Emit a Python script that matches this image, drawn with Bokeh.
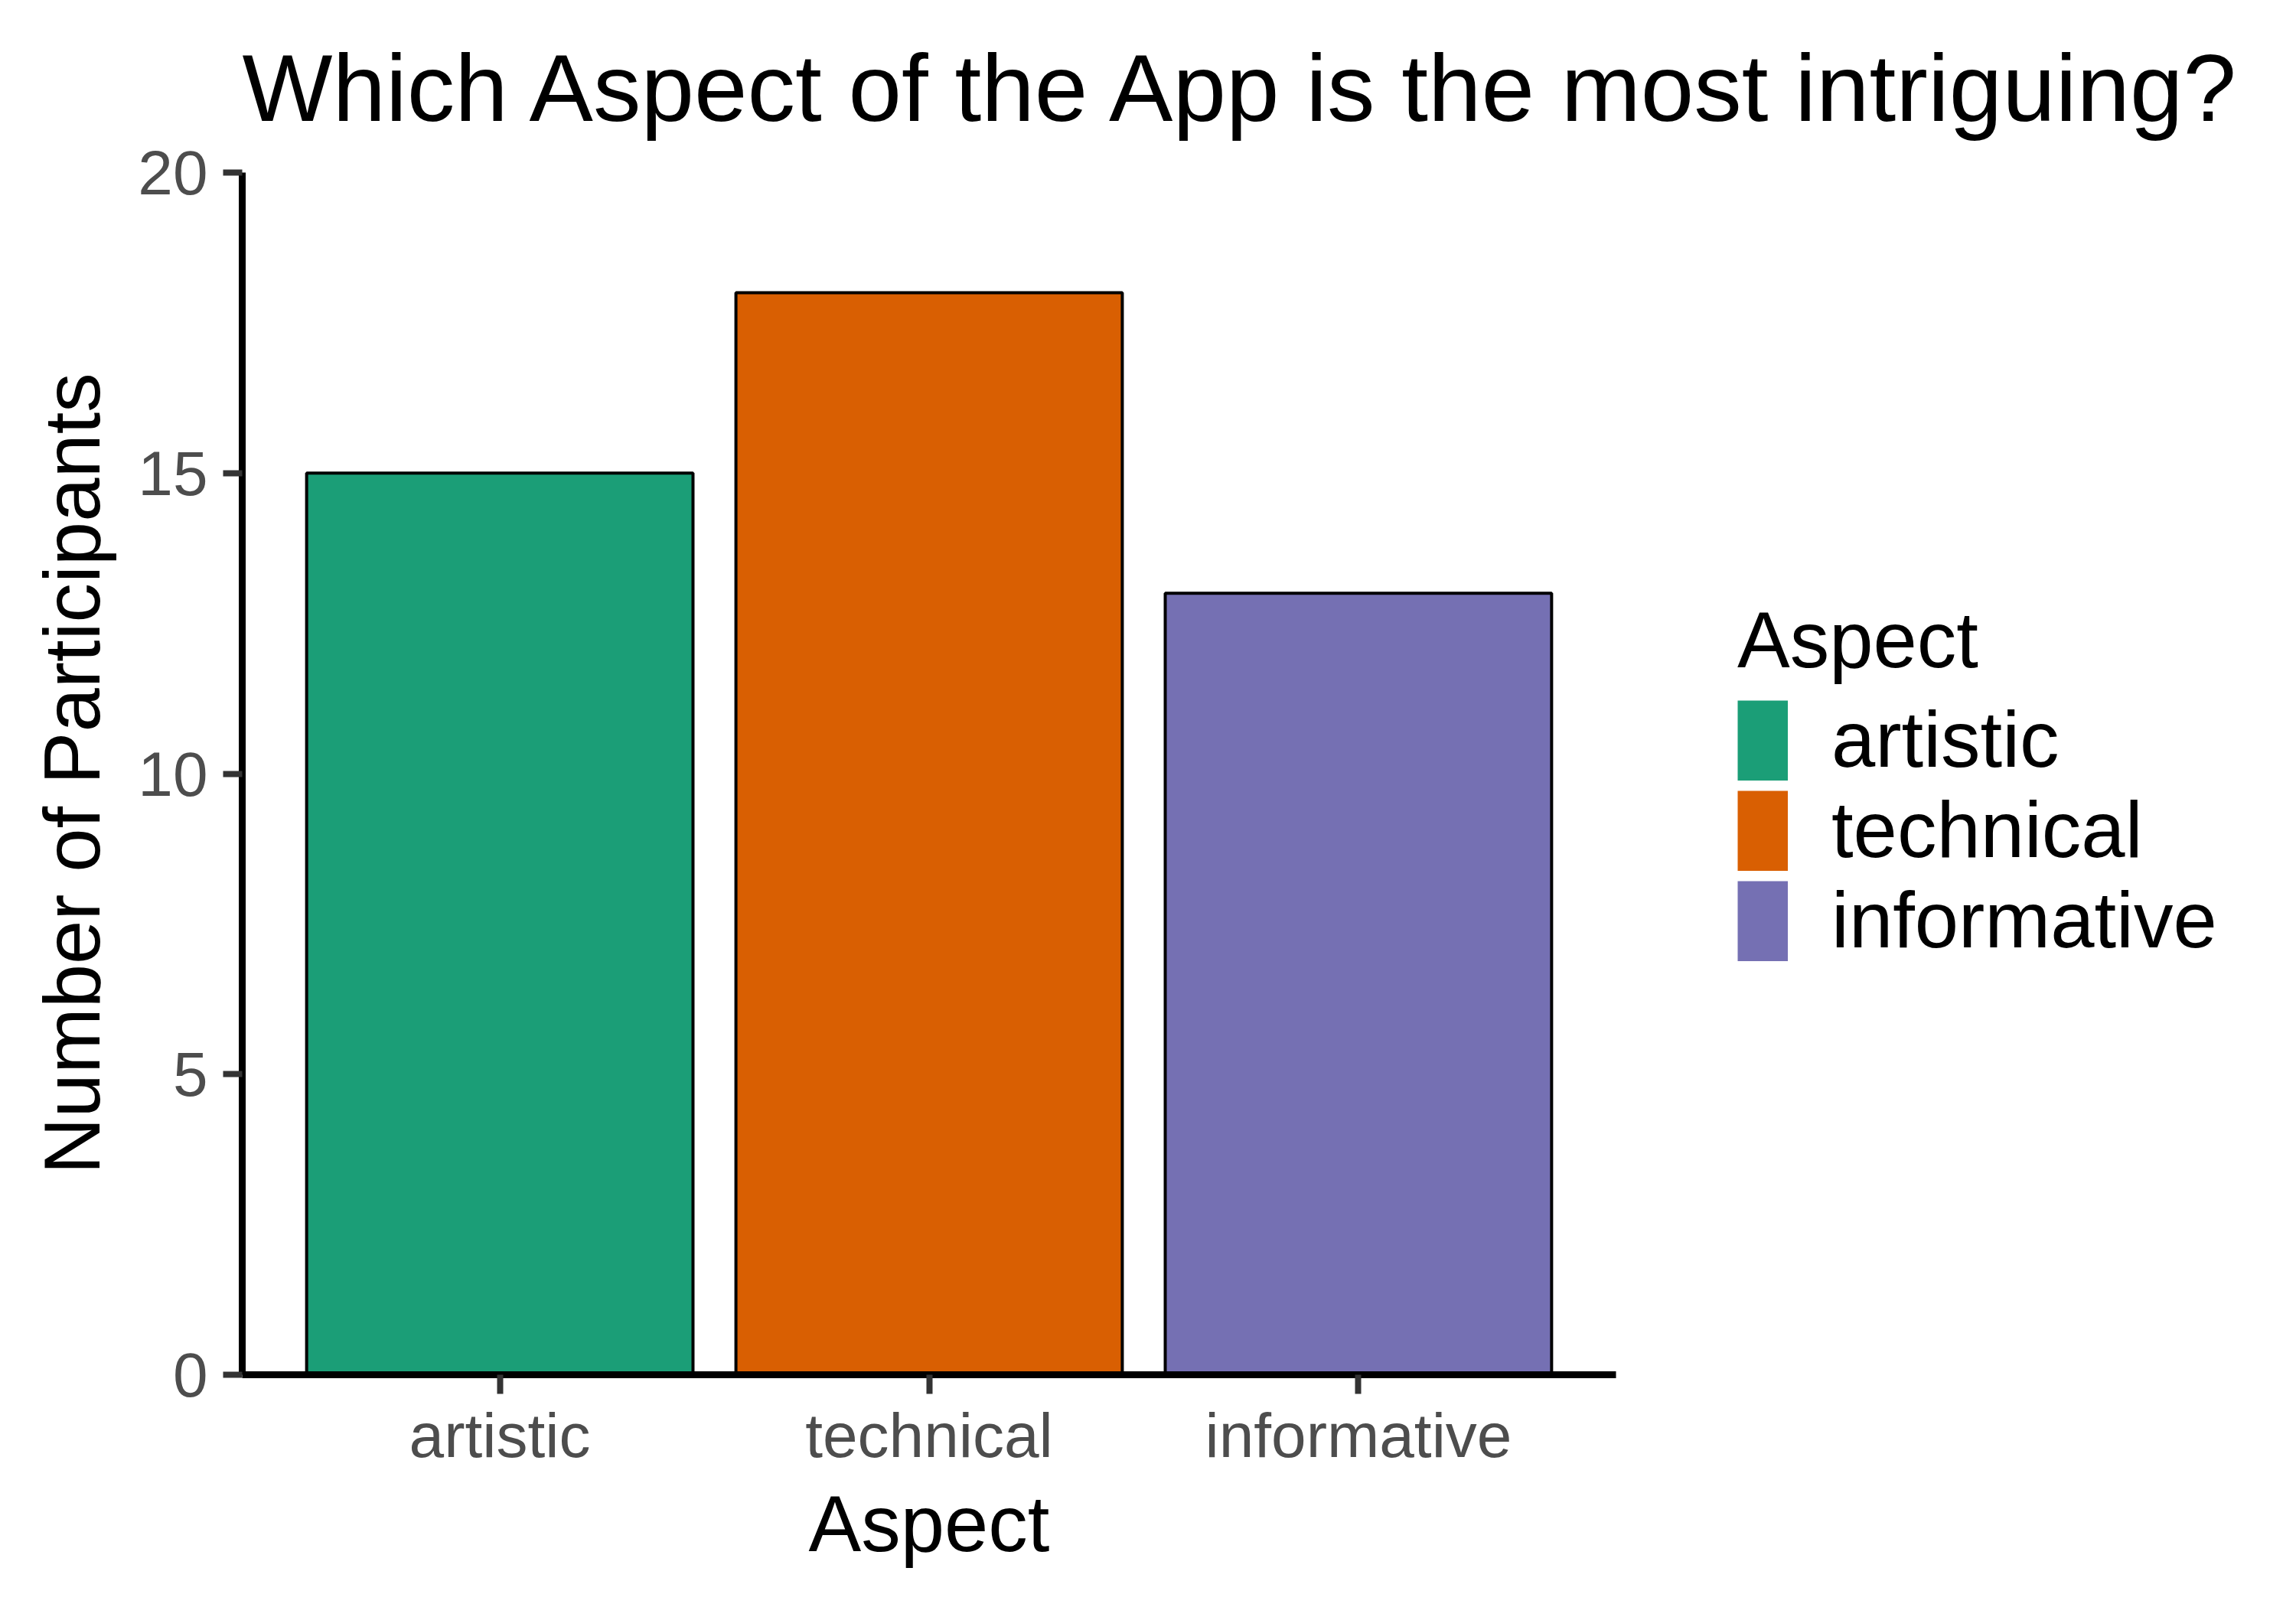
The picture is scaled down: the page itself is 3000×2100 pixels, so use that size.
from bokeh.plotting import figure
from bokeh.models import ColumnDataSource, FactorRange, Range1d, Legend, LegendItem
from bokeh.embed import file_html
from bokeh.resources import INLINE

aspects = ["artistic", "technical", "informative"]
counts = [15, 18, 13]
colors = ["#1B9E77", "#D95F02", "#7570B3"]
y_ticks = [0, 5, 10, 15, 20]

FONT = "Liberation Sans"

src = ColumnDataSource(dict(aspect=aspects, count=counts, color=colors))

p = figure(
    frame_width=1795, frame_height=1571,
    x_range=FactorRange(factors=aspects, range_padding=0.1, range_padding_units="absolute"),
    y_range=Range1d(0, 20),
    output_backend="svg", toolbar_location=None,
    min_border_left=316, min_border_right=700, min_border_top=224, min_border_bottom=289,
)
p.outline_line_color = None
p.background_fill_color = "white"
p.xgrid.visible = False
p.ygrid.visible = False

p.vbar(x="aspect", top="count", width=0.9, source=src,
       fill_color="color", line_color="black", line_width=4)

# legend keys: single-point lines (draw nothing in the plot), thick line in legend
key_renderers = []
for a, c, col in zip(aspects, counts, colors):
    r = p.line(x=[a], y=[c], line_color=col, line_width=105, line_cap="butt")
    key_renderers.append(r)

# title
p.title.text = "Which Aspect of the App is the most intriguing?"
p.title.text_font = FONT
p.title.text_font_size = "125px"
p.title.text_font_style = "normal"
p.title.text_color = "black"
p.title.align = "left"
p.title.text_line_height = 0.6
p.title.standoff = 84

for ax in (p.xaxis[0], p.yaxis[0]):
    ax.axis_line_color = "black"
    ax.axis_line_width = 9
    ax.major_tick_line_color = "#333333"
    ax.major_tick_line_width = 8
    ax.major_tick_out = 25
    ax.major_tick_in = 0
    ax.minor_tick_line_color = None
    ax.major_label_text_font = FONT
    ax.major_label_text_font_size = "82px"
    ax.major_label_text_color = "#4D4D4D"
    ax.axis_label_text_font = FONT
    ax.axis_label_text_font_size = "103px"
    ax.axis_label_text_font_style = "normal"
    ax.axis_label_text_color = "black"

p.yaxis.ticker = y_ticks
p.yaxis.axis_label = "Number of Participants"
p.yaxis.major_label_standoff = 20
p.yaxis.axis_label_standoff = 25
p.xaxis.axis_label = "Aspect"
p.xaxis.major_label_standoff = 8
p.xaxis.axis_label_standoff = 10

items = [LegendItem(label=a, renderers=[r]) for a, r in zip(aspects, key_renderers)]
legend = Legend(
    items=items, title="Aspect",
    location=(159, 534),
    title_text_font=FONT, title_text_font_size="103px", title_text_font_style="normal",
    title_text_color="black", title_standoff=12,
    label_text_font=FONT, label_text_font_size="103px", label_text_color="black",
    glyph_width=66, glyph_height=105, label_height=105, spacing=0, label_standoff=57,
    padding=0, margin=0, border_line_color=None, background_fill_alpha=0,
)
p.add_layout(legend, "right")

open("out.html", "w").write(file_html(p, INLINE))
